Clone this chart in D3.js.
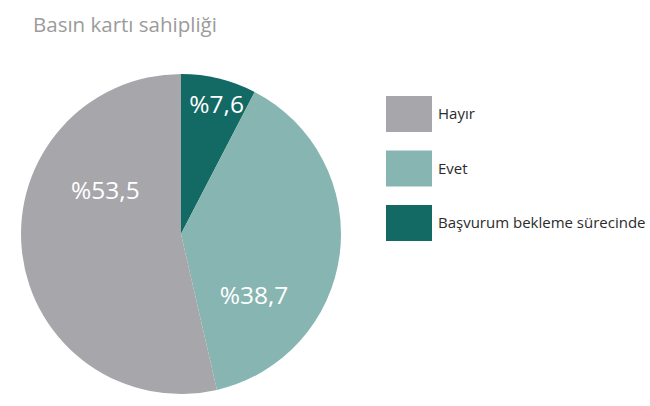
<!DOCTYPE html>
<html lang="tr">
<head>
<meta charset="UTF-8">
<title>Basın kartı sahipliği</title>
<script src="https://d3js.org/d3.v7.min.js"></script>
<style>
    body { margin: 0; background: #fff; }
    svg { display: block; font-family: "Open Sans", sans-serif; }
    .title { font-size: 20.5px; fill: #9b9b9b; }
    .legend-label { font-size: 15px; fill: #2b2b2b; }
    .slice-label { font-size: 24.5px; fill: #fff; }
</style>
</head>
<body>
<svg width="650" height="406"></svg>
<script>
    // veriler
    const categories = ["Başvurum bekleme sürecinde", "Evet", "Hayır"];
    const values = [7.6, 38.7, 53.5];
    const valueLabels = ["%7,6", "%38,7", "%53,5"];
    const colors = ["#136964", "#87b5b1", "#a7a6ab"];
    const legendOrder = ["Hayır", "Evet", "Başvurum bekleme sürecinde"];

    const svg = d3.select("svg");
    const cx = 181, cy = 234, radius = 160;

    svg.append("text")
        .attr("class", "title")
        .attr("x", 33)
        .attr("y", 32)
        .text("Basın kartı sahipliği");

    const color = d3.scaleOrdinal().domain(categories).range(colors);

    const pie = d3.pie().sort(null).value(d => d.value);
    const arcs = pie(categories.map((c, i) => ({ name: c, value: values[i], label: valueLabels[i] })));

    const arc = d3.arc().innerRadius(0).outerRadius(radius);

    const g = svg.append("g").attr("transform", `translate(${cx},${cy})`);

    g.selectAll("path")
        .data(arcs)
        .enter()
        .append("path")
        .attr("d", arc)
        .attr("fill", d => color(d.data.name));

    // etiket yerleşimi: dilim ortasından açı kayması ve yarıçap
    const labelTweak = [
        { shift: 0.03, r: 134 },
        { shift: 0.58, r: 96 },
        { shift: 0.63, r: 87 }
    ];
    g.selectAll(".slice-label")
        .data(arcs)
        .enter()
        .append("text")
        .attr("class", "slice-label")
        .attr("text-anchor", "middle")
        .attr("transform", (d, i) => {
            const t = labelTweak[i];
            const a = (d.startAngle + d.endAngle) / 2 + t.shift;
            return `translate(${Math.sin(a) * t.r},${-Math.cos(a) * t.r + 8})`;
        })
        .text(d => d.data.label);

    // lejant
    const legend = svg.append("g").attr("transform", "translate(386,96)");
    const item = legend.selectAll("g")
        .data(legendOrder)
        .enter()
        .append("g")
        .attr("transform", (d, i) => `translate(0,${i * 54.5})`);

    item.append("rect")
        .attr("width", 46)
        .attr("height", 36)
        .attr("fill", d => color(d));

    item.append("text")
        .attr("class", "legend-label")
        .attr("x", 52)
        .attr("y", 23)
        .text(d => d);
</script>
</body>
</html>
